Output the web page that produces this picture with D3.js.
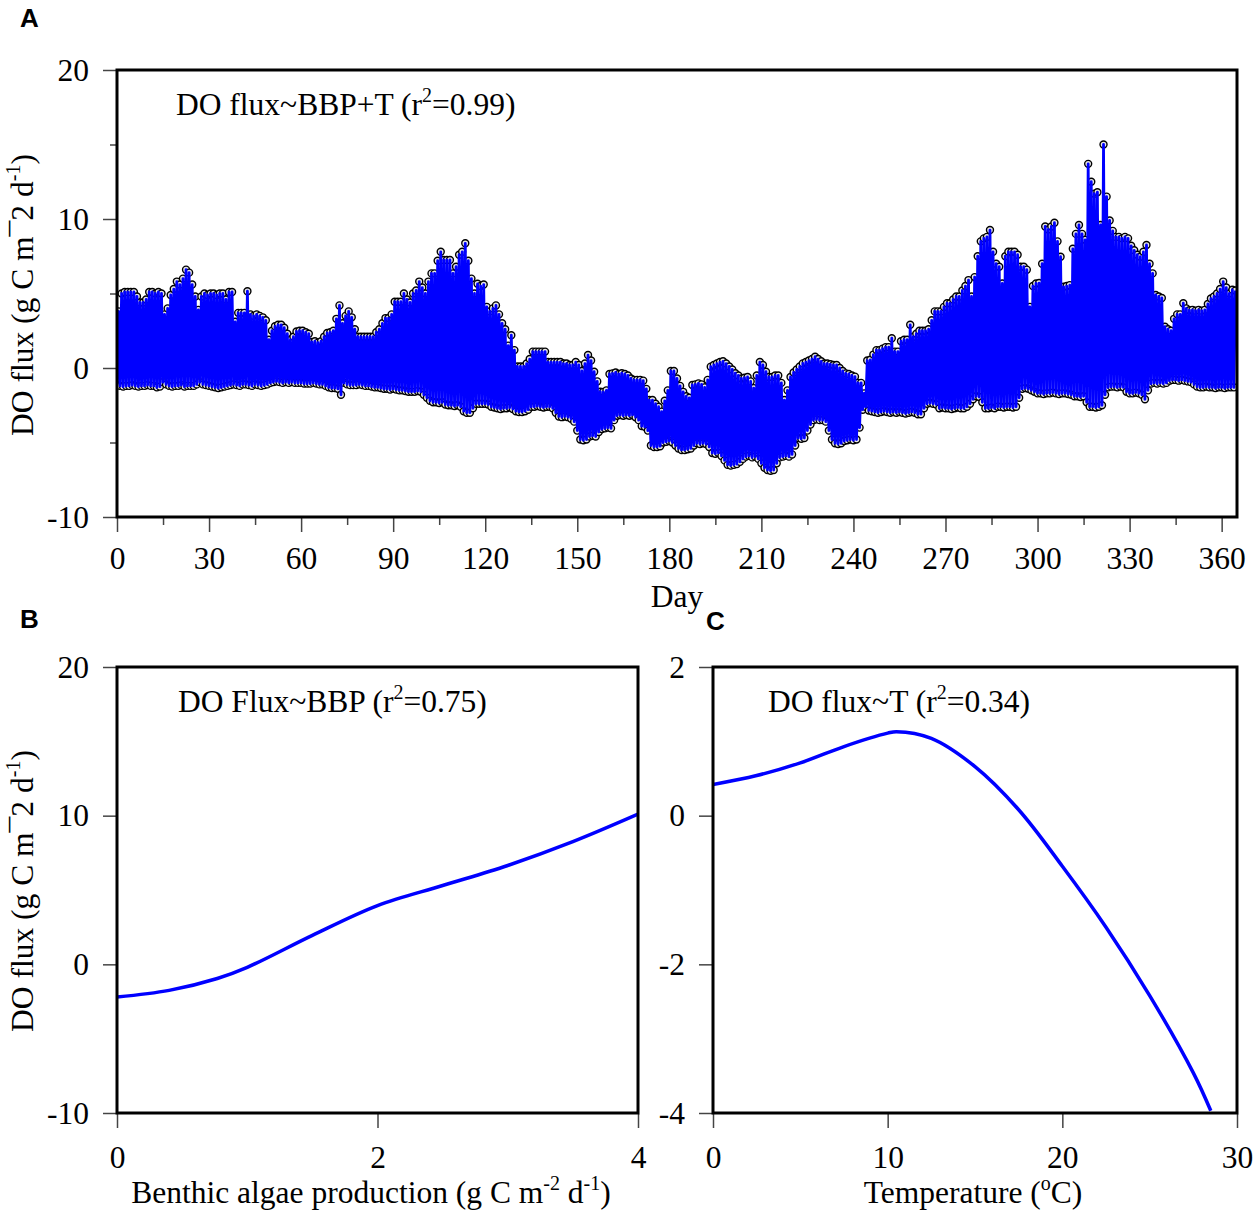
<!DOCTYPE html>
<html><head><meta charset="utf-8">
<script src="https://cdn.jsdelivr.net/npm/d3@7"></script>
<style>
body{margin:0;background:#fff}
svg text{font-family:"Liberation Serif","Times New Roman",serif;fill:#000}
</style>
</head><body>
<svg id="chart" width="1255" height="1213"></svg>
<script>
// ---- Panel A: daily upper and lower envelope of the DO flux series (day 0..364)
const upperA = [
3.8,5.0,5.1,5.1,5.1,5.1,4.8,4.4,4.4,4.6,
5.1,5.1,5.0,5.1,5.0,3.6,4.0,4.9,5.3,5.8,
5.6,6.0,6.6,6.4,5.6,4.8,3.9,4.8,5.0,4.9,
5.0,5.0,4.9,5.0,5.0,4.6,5.1,5.1,3.1,3.7,
3.7,3.7,5.15,3.6,3.5,3.6,3.5,3.4,3.2,1.9,
2.5,2.8,2.9,2.9,2.7,2.3,1.9,2.1,2.45,2.5,
2.5,2.4,2.3,1.75,1.8,1.7,1.8,2.1,2.35,2.4,
2.5,3.3,4.2,3.0,3.5,3.8,3.4,2.6,2.1,2.1,
2.1,2.1,2.1,2.1,2.4,2.6,3.0,3.35,3.35,3.6,
4.45,4.45,4.45,5.0,4.6,4.4,5.0,5.2,5.8,5.4,
5.0,5.8,6.35,6.35,7.2,7.8,7.25,7.25,7.25,6.35,
6.8,7.6,7.8,8.37,7.2,6.0,5.0,5.65,5.5,5.6,
4.1,3.8,4.0,4.2,3.6,3.0,2.6,1.5,2.2,1.2,
0.1,0.1,0.1,0.3,0.6,1.1,1.1,1.1,1.1,1.1,
0.4,0.4,0.4,0.4,0.4,0.3,0.3,0.2,0.2,0.4,
0.2,-0.2,0.3,0.87,0.5,-0.25,-0.9,-1.59,-1.6,-1.5,
-0.4,-0.36,-0.3,-0.4,-0.35,-0.4,-0.5,-0.7,-0.8,-0.8,
-0.8,-0.85,-1.4,-2.15,-2.15,-2.4,-2.6,-2.93,-2.2,-1.5,
-0.2,-0.2,-0.7,-1.2,-1.6,-1.9,-2.0,-1.14,-1.1,-1.03,
-1.1,-1.3,-0.8,0.09,0.2,0.3,0.4,0.45,0.3,0.1,
-0.1,-0.35,-0.5,-0.7,-0.65,-0.6,-0.9,-1.35,-0.5,0.4,
0.2,-0.25,-0.6,-0.6,-0.5,-0.5,-1.0,-2.15,-1.5,-0.6,
-0.3,-0.1,0.1,0.31,0.4,0.5,0.6,0.76,0.6,0.45,
0.3,0.3,0.25,0.2,0.2,0.0,-0.2,-0.36,-0.4,-0.5,
-0.58,-1.0,-1.0,-1.7,0.5,0.55,0.9,1.2,1.2,1.3,
1.4,1.4,2.0,1.1,1.1,1.8,1.9,1.9,2.9,2.1,
2.3,2.5,2.5,2.5,2.6,3.2,3.8,3.8,3.8,4.1,
4.35,4.35,4.6,4.8,4.8,5.2,5.5,5.9,4.8,6.1,
7.5,8.5,8.7,8.8,9.26,7.8,7.0,6.8,5.67,7.5,
7.8,7.8,7.8,7.6,6.8,6.8,6.6,4.1,5.5,5.67,
5.7,7.0,9.5,9.3,9.5,9.75,8.5,7.47,5.45,5.5,
5.56,8.0,9.0,9.6,9.0,8.6,13.7,12.5,11.7,11.8,
9.6,15.0,11.5,9.9,9.2,8.8,8.8,8.7,8.8,8.7,
8.2,7.9,7.6,7.47,7.8,8.26,7.0,6.35,4.9,4.8,
4.7,2.77,2.6,2.5,3.3,3.6,3.6,4.35,4.0,3.88,
3.9,3.85,3.9,3.85,3.9,4.3,4.66,4.8,5.0,5.3,
5.8,5.4,5.0,5.25,5.2
];
const lowerA = [
-1.1,-1.2,-1.25,-1.2,-1.2,-1.15,-1.2,-1.25,-1.2,-1.2,
-1.15,-1.2,-1.2,-1.3,-1.25,-0.95,-1.1,-1.2,-1.25,-1.2,
-1.2,-1.15,-1.25,-1.2,-1.2,-1.2,-1.1,-0.95,-1.1,-1.15,
-1.2,-1.25,-1.3,-1.35,-1.3,-1.25,-1.2,-1.15,-1.1,-1.15,
-1.2,-1.1,-1.1,-1.15,-1.2,-1.1,-1.15,-1.2,-1.15,-1.1,
-1.0,-0.95,-0.9,-0.95,-1.0,-0.95,-1.0,-0.95,-1.0,-1.0,
-1.0,-1.05,-1.05,-1.05,-1.0,-1.05,-1.1,-1.1,-1.2,-1.3,
-1.35,-1.35,-1.4,-1.8,-1.0,-1.1,-1.15,-1.15,-1.15,-1.1,
-1.15,-1.2,-1.2,-1.25,-1.3,-1.3,-1.35,-1.4,-1.4,-1.45,
-1.4,-1.45,-1.5,-1.5,-1.55,-1.6,-1.6,-1.6,-1.55,-1.6,
-1.8,-2.0,-2.2,-2.3,-2.3,-2.35,-2.3,-2.45,-2.5,-2.5,
-2.55,-2.5,-2.6,-2.9,-3.0,-3.0,-2.7,-2.4,-2.4,-2.4,
-2.4,-2.45,-2.6,-2.65,-2.7,-2.75,-2.7,-2.7,-2.65,-2.75,
-2.9,-2.95,-2.95,-2.9,-2.8,-2.6,-2.6,-2.55,-2.6,-2.65,
-2.6,-2.6,-2.7,-3.0,-3.25,-3.3,-3.25,-3.3,-3.4,-3.6,
-4.2,-4.8,-4.85,-4.8,-4.6,-4.55,-4.6,-4.3,-4.1,-4.05,
-4.0,-4.05,-3.5,-3.2,-3.15,-3.2,-3.15,-3.2,-3.15,-3.3,
-3.5,-3.9,-3.95,-4.2,-5.2,-5.3,-5.3,-5.25,-5.0,-4.95,
-4.9,-5.0,-5.2,-5.4,-5.5,-5.5,-5.45,-5.4,-5.2,-5.05,
-5.1,-5.05,-5.1,-5.3,-5.7,-5.75,-5.7,-5.9,-6.2,-6.5,
-6.55,-6.5,-6.45,-6.3,-6.1,-5.95,-5.9,-6.0,-5.95,-6.1,
-6.4,-6.7,-6.85,-6.9,-6.85,-6.4,-6.0,-5.95,-5.9,-5.95,
-5.8,-5.2,-4.7,-4.75,-4.7,-4.2,-3.8,-3.5,-3.45,-3.5,
-3.5,-3.6,-4.2,-4.8,-5.05,-5.1,-5.05,-4.9,-4.85,-4.8,
-4.85,-4.8,-4.0,-2.8,-2.6,-2.85,-2.9,-2.95,-3.0,-2.95,
-2.9,-2.95,-3.0,-2.95,-3.0,-2.95,-3.0,-3.05,-3.0,-2.95,
-3.0,-3.1,-3.1,-2.7,-2.4,-2.35,-2.4,-2.45,-2.7,-2.65,
-2.7,-2.7,-2.75,-2.7,-2.65,-2.7,-2.7,-2.6,-2.4,-2.1,
-1.9,-1.95,-2.3,-2.7,-2.7,-2.65,-2.7,-2.6,-2.6,-2.65,
-2.6,-2.6,-2.65,-2.6,-2.0,-1.4,-1.35,-1.4,-1.5,-1.6,
-1.7,-1.7,-1.75,-1.7,-1.7,-1.65,-1.7,-1.75,-1.7,-1.7,
-1.75,-1.8,-1.9,-1.9,-1.95,-1.9,-2.3,-2.6,-2.6,-2.65,
-2.6,-2.5,-1.8,-1.3,-1.25,-1.25,-1.3,-1.25,-1.3,-1.6,
-1.7,-1.7,-1.65,-1.7,-1.8,-2.1,-1.5,-1.05,-1.0,-1.05,
-1.0,-1.05,-1.0,-0.85,-0.8,-0.8,-0.85,-0.8,-0.85,-0.9,
-0.95,-1.1,-1.25,-1.3,-1.3,-1.25,-1.3,-1.3,-1.35,-1.3,
-1.3,-1.35,-1.3,-1.3,-1.3
];
// ---- Panel B: partial effect of benthic algae production
const bbpX = [0, 0.4, 0.77, 1.0, 1.5, 2.0, 2.5, 3.0, 3.5, 4.0];
const bbpY = [-2.2, -1.75, -0.95, -0.2, 1.95, 3.95, 5.3, 6.65, 8.25, 10.1];
// ---- Panel C: partial effect of temperature
const tempX = [0, 2.5, 5, 7.5, 10, 10.5, 12.5, 15, 17.5, 20, 22.5, 25, 27.5, 28.5];
const tempY = [0.42, 0.54, 0.71, 0.93, 1.11, 1.13, 1.04, 0.66, 0.08, -0.68, -1.5, -2.42, -3.46, -3.97];
// ---- tick labels
const dayTicks = [0, 30, 60, 90, 120, 150, 180, 210, 240, 270, 300, 330, 360];
const dayMinorTicks = [15, 45, 75, 105, 135, 165, 195, 225, 255, 285, 315, 345];
const fluxTicks = [-10, 0, 10, 20];
const fluxMinorTicks = [-5, 5, 15];
const bbpTicks = [0, 2, 4];
const tempTicks = [0, 10, 20, 30];
const tempFluxTicks = [-4, -2, 0, 2];

const svg = d3.select("#chart");
const FS = 31.5;
const fmt = d => String(d);   // plain hyphen-minus as in the reference

function styleAxis(g) {
  g.select(".domain").remove();
  g.selectAll(".tick line").attr("stroke", "#444").attr("stroke-width", 1.5);
  g.selectAll(".tick text").attr("font-family", '"Liberation Serif","Times New Roman",serif')
    .attr("font-size", FS).attr("fill", "#000");
}

function richText(parent, x, y, parts, anchor, transform) {
  const t = parent.append("text").attr("x", x).attr("y", y).attr("font-size", FS)
    .attr("text-anchor", anchor || "start");
  if (transform) t.attr("transform", transform);
  let back = 0;
  parts.forEach(p => {
    const s = t.append("tspan").text(p.t);
    if (p.sup) {
      s.attr("font-size", 20).attr("dy", -13 + back);
      back = 13;
    } else {
      if (back) s.attr("dy", back);
      back = 0;
    }
  });
  return t;
}

function panel(opt) {
  const g = svg.append("g");
  const x = d3.scaleLinear().domain(opt.xd).range([opt.l, opt.r]);
  const y = d3.scaleLinear().domain(opt.yd).range([opt.b, opt.t]);
  const ax = g.append("g").attr("transform", `translate(0,${opt.b + 1})`)
    .call(d3.axisBottom(x).tickValues(opt.xt).tickSize(14).tickPadding(opt.xpad).tickSizeOuter(0).tickFormat(fmt));
  styleAxis(ax);
  if (opt.xm) {
    const am = g.append("g").attr("transform", `translate(0,${opt.b + 1})`)
      .call(d3.axisBottom(x).tickValues(opt.xm).tickSize(7).tickFormat(""));
    styleAxis(am);
  }
  const ay = g.append("g").attr("transform", `translate(${opt.l},0)`)
    .call(d3.axisLeft(y).tickValues(opt.yt).tickSize(14).tickPadding(14).tickSizeOuter(0).tickFormat(fmt));
  styleAxis(ay);
  if (opt.ym) {
    const amy = g.append("g").attr("transform", `translate(${opt.l},0)`)
      .call(d3.axisLeft(y).tickValues(opt.ym).tickSize(7).tickFormat(""));
    styleAxis(amy);
  }
  const clipId = "clip" + Math.round(opt.l) + "_" + Math.round(opt.t);
  g.append("clipPath").attr("id", clipId).append("rect")
    .attr("x", opt.l).attr("y", opt.t).attr("width", opt.r - opt.l).attr("height", opt.b - opt.t);
  const plot = g.append("g").attr("clip-path", `url(#${clipId})`);
  return {g, x, y, plot, opt};
}

function frame(p) {
  const o = p.opt;
  p.g.append("rect").attr("x", o.l).attr("y", o.t).attr("width", o.r - o.l).attr("height", o.b - o.t)
    .attr("fill", "none").attr("stroke", "#000").attr("stroke-width", 3);
}

// ===== Panel A
const pA = panel({l: 117, r: 1237, t: 70, b: 517, xd: [0, 365], yd: [-10, 20],
  xt: dayTicks, xm: dayMinorTicks, yt: fluxTicks, ym: fluxMinorTicks, xpad: 15});
const seriesA = [];
upperA.forEach((u, i) => {
  seriesA.push([i, lowerA[i]]);
  seriesA.push([i + 0.5, u]);
});
pA.plot.append("g").selectAll("circle").data(seriesA).join("circle")
  .attr("cx", d => pA.x(d[0])).attr("cy", d => pA.y(d[1])).attr("r", 3.5)
  .attr("fill", "#e6e6e6").attr("stroke", "#000").attr("stroke-width", 1.4);
pA.plot.append("path").datum(seriesA)
  .attr("d", d3.line().x(d => pA.x(d[0])).y(d => pA.y(d[1])))
  .attr("fill", "none").attr("stroke", "#0000ff").attr("stroke-width", 2.8)
  .attr("stroke-linejoin", "round");
frame(pA);
richText(svg, 176, 115, [{t: "DO flux~BBP+T (r"}, {t: "2", sup: true}, {t: "=0.99)"}]);
svg.append("text").attr("x", 677).attr("y", 607).attr("font-size", FS).attr("text-anchor", "middle").text("Day");

// ===== Panel B
const pB = panel({l: 117, r: 638, t: 667, b: 1113, xd: [0, 4], yd: [-10, 20],
  xt: bbpTicks, yt: fluxTicks, xpad: 18});
pB.plot.append("path").datum(bbpX.map((v, i) => [v, bbpY[i]]))
  .attr("d", d3.line().curve(d3.curveCatmullRom.alpha(0.5)).x(d => pB.x(d[0])).y(d => pB.y(d[1])))
  .attr("fill", "none").attr("stroke", "#0000ff").attr("stroke-width", 3.5);
frame(pB);
richText(svg, 178, 712, [{t: "DO Flux~BBP (r"}, {t: "2", sup: true}, {t: "=0.75)"}]);
richText(svg, 371, 1203, [{t: "Benthic algae production (g C m"}, {t: "-2", sup: true}, {t: " d"}, {t: "-1", sup: true}, {t: ")"}], "middle");

// ===== Panel C
const pC = panel({l: 713, r: 1237, t: 667, b: 1113, xd: [0, 30], yd: [-4, 2],
  xt: tempTicks, yt: tempFluxTicks, xpad: 18});
pC.plot.append("path").datum(tempX.map((v, i) => [v, tempY[i]]))
  .attr("d", d3.line().curve(d3.curveCatmullRom.alpha(0.5)).x(d => pC.x(d[0])).y(d => pC.y(d[1])))
  .attr("fill", "none").attr("stroke", "#0000ff").attr("stroke-width", 3.5);
frame(pC);
richText(svg, 768, 712, [{t: "DO flux~T (r"}, {t: "2", sup: true}, {t: "=0.34)"}]);
richText(svg, 973, 1203, [{t: "Temperature ("}, {t: "o", sup: true}, {t: "C)"}], "middle");

// ===== Y axis labels
const ylab = [{t: "DO flux (g C m\u00AF2 d"}, {t: "-1", sup: true}, {t: ")"}];
richText(svg, 0, 0, ylab, "middle", "translate(33,295) rotate(-90)");
richText(svg, 0, 0, ylab, "middle", "translate(33,891) rotate(-90)");

// ===== Panel letters
[["A", 20, 27], ["B", 20, 628], ["C", 706, 630]].forEach(([s, x, y]) => {
  svg.append("text").attr("x", x).attr("y", y).attr("font-size", 26).attr("font-weight", "bold")
    .style("font-family", '"Liberation Sans", Arial, sans-serif').text(s);
});
</script>
</body></html>
